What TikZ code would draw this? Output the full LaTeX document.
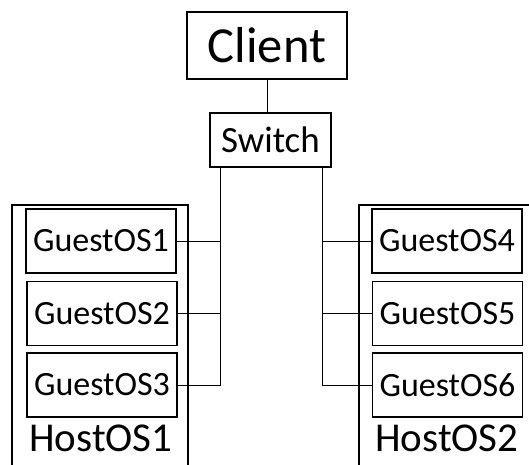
\documentclass[tikz,border=0pt]{standalone}
\usepackage{fontspec}
\setmainfont{Carlito}
\begin{document}
\begin{tikzpicture}[x=1pt,y=-1pt,
  box/.style={draw,line width=1.1pt,inner sep=0pt,align=center},
  guest/.style={box,minimum width=150pt,minimum height=64pt,font=\fontsize{34}{38}\selectfont},
  host/.style={box,minimum width=176pt,minimum height=300pt},
  hostlabel/.style={anchor=base,font=\fontsize{41}{46}\selectfont},
  wire/.style={line width=0.9pt}]
\useasboundingbox (0,0) rectangle (529,464);
\clip (0,0) rectangle (529,464);
% host machines (open at the bottom edge)
\node[host] (host1) at (100,355) {};
\node[host] (host2) at (447,355) {};
\node[hostlabel] (h1label) at (101,451) {HostOS1};
\node[hostlabel] (h2label) at (447,451) {HostOS2};
% client and switch
\node[box,minimum width=160pt,minimum height=67pt,font=\fontsize{50.5}{56}\selectfont] (client) at (267,45.5) {Client};
\node[box,minimum width=121pt,minimum height=54pt,font=\fontsize{37}{42}\selectfont] (switch) at (270.5,140) {Switch};
% guests
\node[guest] (g1) at (101,241) {GuestOS1};
\node[guest] (g2) at (102,313.5) {GuestOS2};
\node[guest] (g3) at (102,385) {GuestOS3};
\node[guest] (g4) at (447,241) {GuestOS4};
\node[guest] (g5) at (447.5,313.5) {GuestOS5};
\node[guest] (g6) at (447.5,385) {GuestOS6};
% wiring
\coordinate (busL) at (220,167);
\coordinate (busR) at (322,167);
\draw[wire] (client.south) -- (switch.north -| client.south);
\draw[wire] (busL) |- (g3.east);
\draw[wire] (g1.east) -- (g1.east -| busL);
\draw[wire] (g2.east) -- (g2.east -| busL);
\draw[wire] (busR) |- (g6.west);
\draw[wire] (g4.west) -- (g4.west -| busR);
\draw[wire] (g5.west) -- (g5.west -| busR);
\end{tikzpicture}
\end{document}
